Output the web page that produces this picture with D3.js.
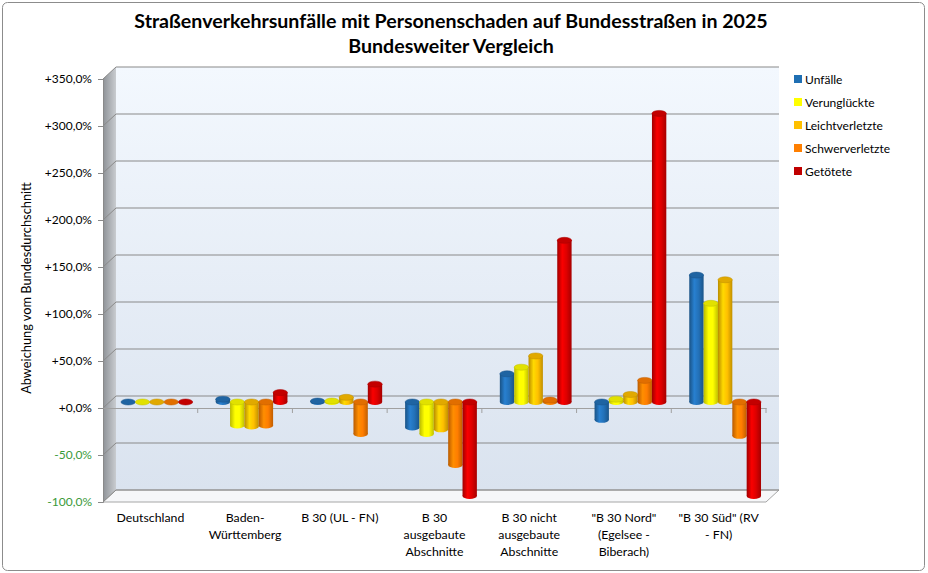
<!DOCTYPE html>
<html>
<head>
<meta charset="utf-8">
<script src="https://cdn.jsdelivr.net/npm/d3@7"></script>
<style>
  body { margin: 0; background: #fff; }
  text { font-family: Lato, "Noto Sans", sans-serif; }
</style>
</head>
<body>
<div id="chart"></div>
<script>
var w = 928, h = 573;

// data (deviation from national average, %)
var categories = ["Deutschland", "Baden-\nWürttemberg", "B 30 (UL - FN)", "B 30\nausgebaute\nAbschnitte",
                  "B 30 nicht\nausgebaute\nAbschnitte", "\"B 30 Nord\"\n(Egelsee -\nBiberach)", "\"B 30 Süd\" (RV\n- FN)"];
var seriesNames = ["Unfälle", "Verunglückte", "Leichtverletzte", "Schwerverletzte", "Getötete"];
var unfaelle        = [0,   3,   1, -27,  30, -19, 135];
var verunglueckte   = [0, -25,   1, -34,  37,   3, 105];
var leichtverletzte = [0, -26,   5, -29,  49,   8, 130];
var schwerverletzte = [0, -25, -34, -67,   2,  23, -36];
var getoetete       = [0,  10,  19, -100, 172, 307, -100];
var yTicks = [-100, -50, 0, 50, 100, 150, 200, 250, 300, 350];

var seriesValues = [unfaelle, verunglueckte, leichtverletzte, schwerverletzte, getoetete];
var colors = ["#2371b8", "#ffff00", "#ffc000", "#ff7d00", "#dd0000"];
var legendColors = ["#1f6fb3", "#ffff00", "#ffc000", "#ff7f00", "#c00000"];

// 3D depth offset of the back wall
var DX = 13, DY = -12;

var svg = d3.select("#chart").append("svg")
    .attr("width", w)
    .attr("height", h);

var defs = svg.append("defs");

// outer frame
svg.append("rect")
    .attr("x", 2.5).attr("y", 2.5)
    .attr("width", w - 6).attr("height", h - 5)
    .attr("rx", 5)
    .attr("fill", "#fff")
    .attr("stroke", "#8c8c8c");

var x = d3.scaleBand().domain(categories).range([103, 766]);
var y = d3.scaleLinear().domain([-100, 350]).range([502, 79]);
var xs = d3.scaleBand().domain(seriesNames).range([0, x.bandwidth()]).paddingInner(0).paddingOuter(0.8);

var x0 = x.range()[0], x1 = x.range()[1];

// gradients
var wallGrad = defs.append("linearGradient").attr("id", "wall")
    .attr("x1", 0).attr("y1", 0).attr("x2", 0).attr("y2", 1);
wallGrad.append("stop").attr("offset", "0%").attr("stop-color", "#f3f8fe");
wallGrad.append("stop").attr("offset", "100%").attr("stop-color", "#dae3ef");

var sideGrad = defs.append("linearGradient").attr("id", "side")
    .attr("x1", 0).attr("y1", 0).attr("x2", 1).attr("y2", 0);
sideGrad.append("stop").attr("offset", "0%").attr("stop-color", "#8e9297");
sideGrad.append("stop").attr("offset", "100%").attr("stop-color", "#c9ccd0");

colors.forEach(function(c, i) {
  var g = defs.append("linearGradient").attr("id", "bar" + i)
      .attr("x1", 0).attr("y1", 0).attr("x2", 1).attr("y2", 0);
  var base = d3.color(c);
  g.append("stop").attr("offset", "0%").attr("stop-color", base.darker(0.9));
  g.append("stop").attr("offset", "35%").attr("stop-color", base.brighter(0.35));
  g.append("stop").attr("offset", "65%").attr("stop-color", base);
  g.append("stop").attr("offset", "100%").attr("stop-color", base.darker(0.8));
});

// back wall
svg.append("rect")
    .attr("x", x0 + DX).attr("y", y(350) + DY)
    .attr("width", x1 - x0).attr("height", y(-100) - y(350))
    .attr("fill", "url(#wall)");

// left side wall
svg.append("polygon")
    .attr("points", [[x0, y(350)], [x0 + DX, y(350) + DY], [x0 + DX, y(-100) + DY], [x0, y(-100)]].join(" "))
    .attr("fill", "url(#side)");

// floor
svg.append("polygon")
    .attr("points", [[x0, y(-100)], [x0 + DX, y(-100) + DY], [x1 + DX, y(-100) + DY], [x1, y(-100)]].join(" "))
    .attr("fill", "#f6f7f9")
    .attr("stroke", "#a6a6a6");

// gridlines on back and side walls
yTicks.forEach(function(t) {
  svg.append("line")
      .attr("x1", x0 + DX).attr("x2", x1 + DX)
      .attr("y1", y(t) + DY).attr("y2", y(t) + DY)
      .attr("stroke", "#8a8a8a").attr("stroke-width", 1.2);
  svg.append("line")
      .attr("x1", x0).attr("x2", x0 + DX)
      .attr("y1", y(t)).attr("y2", y(t) + DY)
      .attr("stroke", "#8a8a8a").attr("stroke-width", 1);
});

// y axis
var locale = d3.formatLocale({decimal: ",", thousands: ".", grouping: [3], currency: ["", "€"], minus: "-"});
var fmt = locale.format("+.1f");

var yAxis = svg.append("g")
    .attr("transform", "translate(" + x0 + ",0)")
    .call(d3.axisLeft(y).tickValues(yTicks).tickSize(5).tickPadding(6)
      .tickFormat(function(d) { return fmt(d) + "%"; }));
yAxis.select(".domain").attr("stroke", "#8a8a8a");
yAxis.selectAll(".tick line").attr("stroke", "#8a8a8a");
yAxis.selectAll(".tick text")
    .style("font-size", "12px")
    .attr("fill", function(d) { return d < 0 ? "#3a9a3a" : "#000"; });

// x axis at zero
var xAxis = svg.append("g")
    .attr("transform", "translate(0," + y(0) + ")")
    .call(d3.axisBottom(x).tickSize(0).tickFormat(""));
xAxis.select(".domain").attr("stroke", "#a0a0a0").attr("stroke-width", 1.2);
svg.append("g").selectAll("line")
  .data(categories.slice(1).concat(["end"]))
  .enter().append("line")
    .attr("x1", function(d) { return d === "end" ? x1 : x(d); })
    .attr("x2", function(d) { return d === "end" ? x1 : x(d); })
    .attr("y1", y(0)).attr("y2", y(0) + 5)
    .attr("stroke", "#a0a0a0");

// category labels
svg.append("g").selectAll("text")
  .data(categories)
  .enter().append("text")
    .attr("text-anchor", "middle")
    .style("font-size", "12.3px")
    .attr("fill", "#000")
    .each(function(d) {
      var t = d3.select(this);
      d.split("\n").forEach(function(line, i) {
        t.append("tspan")
          .attr("x", x(d) + x.bandwidth() / 2)
          .attr("y", 522 + i * 16.8)
          .text(line);
      });
    });

// cylinders
var ry = 3;
var bars = svg.append("g");
categories.forEach(function(cat, ci) {
  seriesNames.forEach(function(s, si) {
    var v = seriesValues[si][ci];
    var bx = x(cat) + xs(s) + DX / 2;
    var bw = xs.bandwidth();
    var top = y(Math.max(v, 0)) + DY / 2;
    var bot = y(Math.min(v, 0)) + DY / 2;
    var base = d3.color(colors[si]);
    var g = bars.append("g");
    if (bot - top > 0.5) {
      g.append("ellipse")
          .attr("cx", bx + bw / 2).attr("cy", bot)
          .attr("rx", bw / 2).attr("ry", ry)
          .attr("fill", "url(#bar" + si + ")");
      g.append("rect")
          .attr("x", bx).attr("y", top)
          .attr("width", bw).attr("height", bot - top)
          .attr("fill", "url(#bar" + si + ")");
    }
    g.append("ellipse")
        .attr("cx", bx + bw / 2).attr("cy", top)
        .attr("rx", bw / 2).attr("ry", ry)
        .attr("fill", base.darker(0.35))
        .attr("stroke", base.darker(0.8))
        .attr("stroke-width", 0.5);
  });
});

// title
var title = svg.append("text")
    .attr("text-anchor", "middle")
    .style("font-size", "19.6px")
    .style("font-weight", "bold")
    .attr("fill", "#000");
title.append("tspan").attr("x", 451).attr("y", 28)
    .text("Straßenverkehrsunfälle mit Personenschaden auf Bundesstraßen in 2025");
title.append("tspan").attr("x", 451).attr("y", 53)
    .text("Bundesweiter Vergleich");

// y axis title
svg.append("text")
    .attr("transform", "translate(31,288) rotate(-90)")
    .attr("text-anchor", "middle")
    .style("font-size", "12.8px")
    .attr("fill", "#000")
    .text("Abweichung vom Bundesdurchschnitt");

// legend
var legend = svg.append("g").selectAll("g")
  .data(seriesNames)
  .enter().append("g")
    .attr("transform", function(d, i) { return "translate(794," + (79 + i * 23) + ")"; });
legend.append("rect")
    .attr("x", 0).attr("y", -4)
    .attr("width", 8).attr("height", 8)
    .attr("fill", function(d, i) { return legendColors[i]; });
legend.append("text")
    .attr("x", 11).attr("y", 4.5)
    .style("font-size", "12px")
    .attr("fill", "#000")
    .text(function(d) { return d; });
</script>
</body>
</html>
